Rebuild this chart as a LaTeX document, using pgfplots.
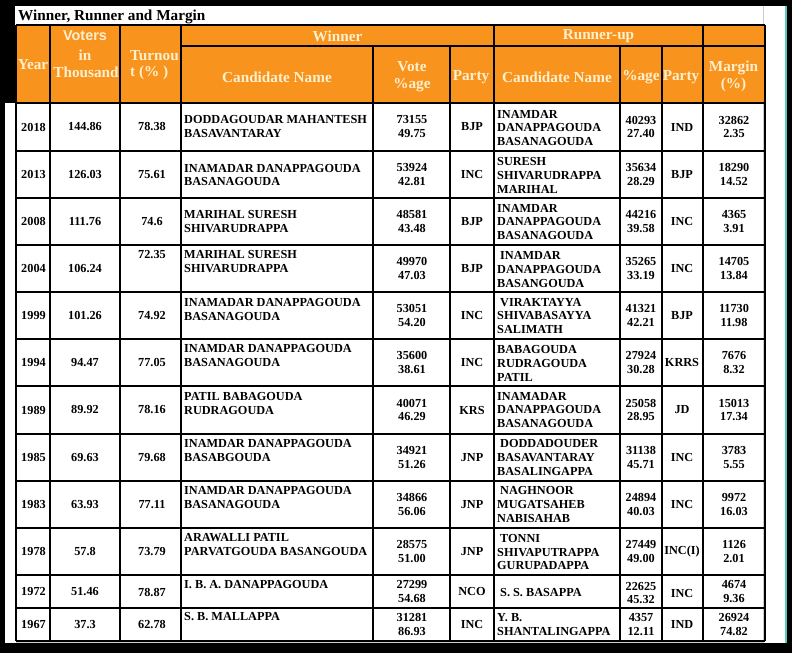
\documentclass[border=0pt]{standalone}
\usepackage{fontspec}
\setmainfont{Liberation Serif}
\newfontfamily\hsans{Liberation Sans}
\usepackage{pgfplots}
\pgfplotsset{compat=1.18}
\definecolor{hdrorange}{RGB}{248,147,30}
\definecolor{hdrtext}{RGB}{255,240,205}
\definecolor{pageline}{RGB}{205,205,205}
\definecolor{edgeteal}{RGB}{90,200,190}

\tikzset{
  bd/.style={font=\bfseries\fontsize{12.3}{14}\selectfont, inner sep=0pt, align=center},
  hd/.style={font=\bfseries\fontsize{15.3}{17}\selectfont, text=hdrtext, inner sep=0pt, align=center},
}

% winner side: y, name y, turnout y, year, voters, turnout, name, votes, party
\newcommand\wrow[9]{%
  \node[bd] at (axis cs:33.5,#1) {#4};
  \node[bd] at (axis cs:85,#1) {#5};
  \node[bd] at (axis cs:152,#3) {#6};
  \node[bd, anchor=west, align=left] at (axis cs:184,#2) {#7};
  \node[bd] at (axis cs:412,#1) {#8};
  \node[bd] at (axis cs:472,#1) {#9};
}
% runner-up side: y, name y, votes, party, margin
\newcommand\rrow[5]{%
  \node[bd, anchor=west, align=left] at (axis cs:497,#2) {#3};
  \node[bd] at (axis cs:641,#1) {#4};
  \node[bd] at (axis cs:682,#1) {#5};
}
\newcommand\mrg[2]{\node[bd] at (axis cs:734,#1) {#2};}
\newcommand\ind{\hspace*{3bp}}

\begin{document}
\begin{tikzpicture}
\begin{axis}[
  scale only axis, width=792bp, height=653bp,
  xmin=0, xmax=792, ymin=0, ymax=653, y dir=reverse,
  hide axis, clip=false,
]
% screenshot frame
\addplot[fill=black, draw=none] coordinates {(0,0) (792,0) (792,653) (0,653)} -- cycle;
\addplot[fill=white, draw=none] coordinates {(5,6) (785,6) (785,643) (5,643)} -- cycle;
\addplot[fill=black, draw=none] coordinates {(0,0) (15,0) (15,103) (0,103)} -- cycle;
\addplot[edgeteal, line width=2bp] coordinates {(786,6) (786,643)};
\addplot[pageline, line width=1bp] coordinates {(763,6) (763,642) (16,642)};

% header fill
\addplot[fill=hdrorange, draw=none] coordinates {(16,25) (765,25) (765,103) (16,103)} -- cycle;

% rules
\addplot[black, line width=1.3bp, unbounded coords=jump] table {
x y
16 25
765 25
nan nan
181 46
765 46
nan nan
16 103
765 103
nan nan
16 151
765 151
nan nan
16 198
765 198
nan nan
16 245
765 245
nan nan
16 292
765 292
nan nan
16 339
765 339
nan nan
16 386
765 386
nan nan
16 434
765 434
nan nan
16 481
765 481
nan nan
16 528
765 528
nan nan
16 575
765 575
nan nan
16 608
765 608
nan nan
16 641
765 641
};
\addplot[black, line width=1.3bp, unbounded coords=jump] table {
x y
16 25
16 641
nan nan
50 25
50 641
nan nan
120 25
120 641
nan nan
181 25
181 641
nan nan
494 25
494 641
nan nan
703 25
703 641
nan nan
765 25
765 641
nan nan
373 46
373 641
nan nan
450 46
450 641
nan nan
620 46
620 641
nan nan
662 46
662 641
};

% title and header
\node[anchor=base west, inner sep=0pt, font=\bfseries\fontsize{15.3}{17}\selectfont] at (axis cs:18,21) {Winner, Runner and Margin};
\node[hd] at (axis cs:33,65) {Year};
\node[hd, font=\hsans\bfseries\fontsize{14.5}{17}\selectfont] at (axis cs:85,36) {Voters};
\node[hd] at (axis cs:85,55) {in};
\node[hd] at (axis cs:86,72) {Thousand};
\node[hd, anchor=west, align=left, font=\bfseries\fontsize{15.3}{16}\selectfont] at (axis cs:130,65) {Turnou\\t (\% )};
\node[hd] at (axis cs:337.5,36) {Winner};
\node[hd] at (axis cs:598.5,36) {Runner-up};
\node[hd] at (axis cs:277,77) {Candidate Name};
\node[hd] at (axis cs:412,76.5) {Vote\\\%age};
\node[hd] at (axis cs:471,77) {Party};
\node[hd] at (axis cs:557,77) {Candidate Name};
\node[hd] at (axis cs:641,77) {\%age};
\node[hd] at (axis cs:681,77) {Party};
\node[hd] at (axis cs:733.5,76.5) {Margin\\(\%)};

% body rows
\wrow{127}{127}{127}{2018}{144.86}{78.38}{DODDAGOUDAR MAHANTESH\\BASAVANTARAY}{73155\\49.75}{BJP}
\rrow{127}{128}{INAMDAR\\DANAPPAGOUDA\\BASANAGOUDA}{40293\\27.40}{IND}
\mrg{127}{32862\\2.35}

\wrow{174.5}{175}{174.5}{2013}{126.03}{75.61}{INAMADAR DANAPPAGOUDA\\BASANAGOUDA}{53924\\42.81}{INC}
\rrow{174.5}{175}{SURESH\\SHIVARUDRAPPA\\MARIHAL}{35634\\28.29}{BJP}
\mrg{174.5}{18290\\14.52}

\wrow{221.5}{221.5}{221.5}{2008}{111.76}{74.6}{MARIHAL SURESH\\SHIVARUDRAPPA}{48581\\43.48}{BJP}
\rrow{221.5}{222}{INAMDAR\\DANAPPAGOUDA\\BASANAGOUDA}{44216\\39.58}{INC}
\mrg{221.5}{4365\\3.91}

\wrow{268.5}{261.5}{255}{2004}{106.24}{72.35}{MARIHAL SURESH\\SHIVARUDRAPPA}{49970\\47.03}{BJP}
\rrow{268.5}{269.5}{\ind INAMDAR\\DANAPPAGOUDA\\BASANGOUDA}{35265\\33.19}{INC}
\mrg{268.5}{14705\\13.84}

\wrow{315.5}{309.5}{315.5}{1999}{101.26}{74.92}{INAMADAR DANAPPAGOUDA\\BASANAGOUDA}{53051\\54.20}{INC}
\rrow{315.5}{316}{\ind VIRAKTAYYA\\SHIVABASAYYA\\SALIMATH}{41321\\42.21}{BJP}
\mrg{315.5}{11730\\11.98}

\wrow{362.5}{355.5}{362.5}{1994}{94.47}{77.05}{INAMDAR DANAPPAGOUDA\\BASANAGOUDA}{35600\\38.61}{INC}
\rrow{362.5}{363}{BABAGOUDA\\RUDRAGOUDA\\PATIL}{27924\\30.28}{KRRS}
\mrg{362.5}{7676\\8.32}

\wrow{410}{403.5}{410}{1989}{89.92}{78.16}{PATIL BABAGOUDA\\RUDRAGOUDA}{40071\\46.29}{KRS}
\rrow{410}{410}{INAMADAR\\DANAPPAGOUDA\\BASANAGOUDA}{25058\\28.95}{JD}
\mrg{410}{15013\\17.34}

\wrow{457.5}{450.5}{457.5}{1985}{69.63}{79.68}{INAMDAR DANAPPAGOUDA\\BASABGOUDA}{34921\\51.26}{JNP}
\rrow{457.5}{457.5}{\ind DODDADOUDER\\BASAVANTARAY\\BASALINGAPPA}{31138\\45.71}{INC}
\mrg{457.5}{3783\\5.55}

\wrow{504.5}{497.5}{504.5}{1983}{63.93}{77.11}{INAMDAR DANAPPAGOUDA\\BASANAGOUDA}{34866\\56.06}{JNP}
\rrow{504.5}{504.5}{\ind NAGHNOOR\\MUGATSAHEB\\NABISAHAB}{24894\\40.03}{INC}
\mrg{504.5}{9972\\16.03}

\wrow{551.5}{545}{551.5}{1978}{57.8}{73.79}{ARAWALLI PATIL\\PARVATGOUDA BASANGOUDA}{28575\\51.00}{JNP}
\rrow{551.5}{552}{\ind TONNI\\SHIVAPUTRAPPA\\GURUPADAPPA}{27449\\49.00}{INC(I)}
\mrg{551.5}{1126\\2.01}

\wrow{591.5}{585}{593}{1972}{51.46}{78.87}{I. B. A. DANAPPAGOUDA}{27299\\54.68}{NCO}
\rrow{593}{593}{\ind S. S. BASAPPA}{22625\\45.32}{INC}
\mrg{591.5}{4674\\9.36}

\wrow{624.5}{617}{625}{1967}{37.3}{62.78}{S. B. MALLAPPA}{31281\\86.93}{INC}
\rrow{624.5}{625}{Y. B.\\SHANTALINGAPPA}{4357\\12.11}{IND}
\mrg{624.5}{26924\\74.82}
\end{axis}
\end{tikzpicture}
\end{document}
